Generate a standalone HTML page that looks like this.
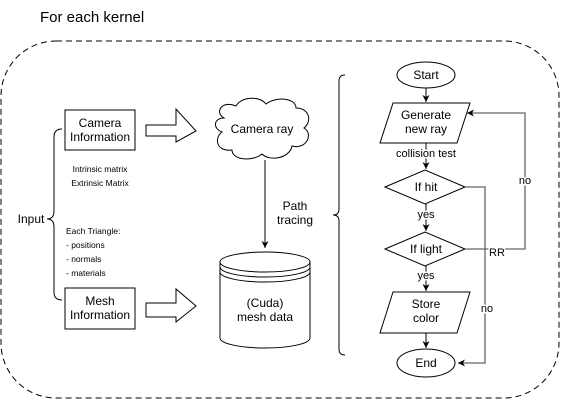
<!DOCTYPE html><html><head><style>body{margin:0;background:#fff}svg{display:block}text{font-family:"Liberation Sans",sans-serif;fill:#000}</style></head><body>
<svg width="561" height="401" viewBox="0 0 561 401" xmlns="http://www.w3.org/2000/svg">
<defs><marker id="a" markerWidth="8" markerHeight="8" refX="7" refY="4" orient="auto" markerUnits="userSpaceOnUse"><path d="M0,0.5 L7,4 L0,7.5 L2,4z" fill="#000"/></marker></defs>
<text x="40" y="22" font-size="15">For each kernel</text>
<rect x="1" y="41" width="558" height="357" rx="55" fill="none" stroke="#000" stroke-dasharray="6,4"/>
<g fill="none" stroke="#000">
<path d="M62,129 Q54,129 54,137 L54,211 Q54,219 47,219 Q54,219 54,227 L54,292 Q54,300 62,300"/>
<rect x="65" y="110" width="70" height="40" fill="#fff"/>
<rect x="65" y="288" width="70" height="41" fill="#fff"/>
<path d="M146,125 L176,125 L176,109 L196,131 L176,142 L176,136 L146,136Z"/>
<path d="M146,303 L176,303 L176,289 L196,306 L176,322 L176,317 L146,317Z"/>
<path d="M224,118 C214,112 222,100 236,106 C242,96 260,96 266,104 C276,96 296,98 296,108 C310,108 312,122 304,128 C314,134 306,150 292,146 C290,158 270,162 262,154 C252,162 232,160 232,150 C216,152 214,138 222,132 C212,128 214,118 224,118Z"/>
<path d="M265,160 L265,248" marker-end="url(#a)"/>
<path d="M220,262 L220,338 A45,10 0 0 0 310,338 L310,262 A45,10 0 0 0 220,262 A45,10 0 0 0 310,262 M220,267 A45,10 0 0 0 310,267 M220,272 A45,10 0 0 0 310,272"/>
<path d="M345,75 Q339,75 339,81 L339,209 Q339,215 333,215 Q339,215 339,221 L339,349 Q339,355 345,355"/>
<ellipse cx="426" cy="75" rx="29" ry="13"/>
<path d="M426,88 L426,102" marker-end="url(#a)"/>
<path d="M393,103 L470,103 L457,143 L380,143Z"/>
<path d="M426,143 L426,169" marker-end="url(#a)"/>
<path d="M385,187 L425,170 L465,187 L425,204Z"/>
<path d="M426,204 L426,231" marker-end="url(#a)"/>
<path d="M385,249 L425,232 L465,249 L425,266Z"/>
<path d="M426,266 L426,291" marker-end="url(#a)"/>
<path d="M393,292 L470,292 L457,333 L380,333Z"/>
<path d="M426,333 L426,348" marker-end="url(#a)"/>
<ellipse cx="426" cy="363" rx="29" ry="14"/>
<path d="M465,187 L485,187 L485,363 L458,363" stroke="#666" stroke-width="1.3" marker-end="url(#a)"/>
<path d="M465,249 L525,249 L525,113 L467,113" stroke="#666" stroke-width="1.3" marker-end="url(#a)"/>
</g>
<g font-size="12" text-anchor="middle">
<text x="100" y="127">Camera</text><text x="100" y="141">Information</text>
<text x="100" y="305">Mesh</text><text x="100" y="319">Information</text>
<text x="262" y="133">Camera ray</text>
<text x="295" y="210">Path</text><text x="295" y="224">tracing</text>
<text x="265" y="307">(Cuda)</text><text x="265" y="321">mesh data</text>
<text x="31" y="223">Input</text>
<text x="426" y="79">Start</text>
<text x="426" y="119">Generate</text><text x="426" y="133">new ray</text>
<text x="426" y="191">If hit</text>
<text x="426" y="253">If light</text>
<text x="426" y="308">Store</text><text x="426" y="322">color</text>
<text x="426" y="367">End</text>
</g>
<g font-size="11" text-anchor="middle">
<text x="426" y="157" style="paint-order:stroke" stroke="#fff" stroke-width="3">collision test</text>
<text x="426" y="218" style="paint-order:stroke" stroke="#fff" stroke-width="3">yes</text>
<text x="426" y="279" style="paint-order:stroke" stroke="#fff" stroke-width="3">yes</text>
<text x="487" y="312" style="paint-order:stroke" stroke="#fff" stroke-width="3">no</text>
<text x="525" y="184" style="paint-order:stroke" stroke="#fff" stroke-width="3">no</text>
<text x="497" y="256" style="paint-order:stroke" stroke="#fff" stroke-width="3">RR</text>
</g>
<g font-size="8.5">
<text x="100" y="172" text-anchor="middle">Intrinsic matrix</text>
<text x="100" y="186" text-anchor="middle">Extrinsic Matrix</text>
<text x="66" y="234">Each Triangle:</text>
<text x="66" y="248">- positions</text>
<text x="66" y="262">- normals</text>
<text x="66" y="276">- materials</text>
</g>
</svg></body></html>
